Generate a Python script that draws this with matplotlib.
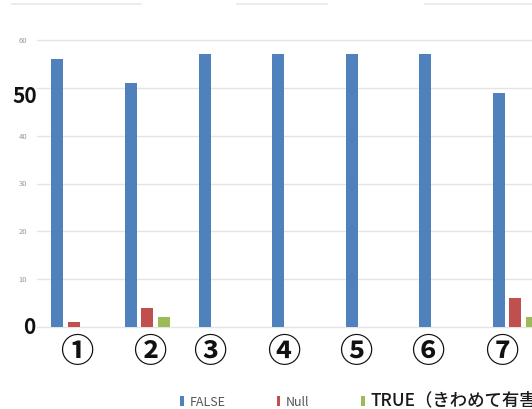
import matplotlib
matplotlib.use('Agg')
import matplotlib.pyplot as plt
import numpy as np
from matplotlib.lines import Line2D

plt.rcParams['font.family'] = ['Noto Sans CJK JP', 'DejaVu Sans']

# Counts per item
categories = ['①', '②', '③', '④', '⑤', '⑥', '⑦']
series_names = ['FALSE', 'Null', 'TRUE（きわめて有害）']
false_counts = [56, 51, 57, 57, 57, 57, 49]
null_counts = [1, 4, 0, 0, 0, 0, 6]
true_counts = [0, 2, 0, 0, 0, 0, 2]
y_ticks = [0, 10, 20, 30, 40, 50, 60]
y_tick_labels = ['', '10', '20', '30', '40', '', '60']

colors = ['#4f81bd', '#c0504d', '#9bbb59']

fig = plt.figure(figsize=(5.32, 4.09), dpi=100)
W, H = 532, 409
ax = fig.add_axes([37 / W, (H - 327) / H, 515.2 / W, 287 / H])

x = np.arange(len(categories))
step = 0.224
width = 0.163
for k, (vals, name) in enumerate(zip([false_counts, null_counts, true_counts], series_names)):
    ax.bar(x + (k - 1) * step, vals, width, color=colors[k], label=name, zorder=2)

ax.set_xlim(-0.5, len(categories) - 0.5)
ax.set_ylim(0, 60)
ax.set_yticks(y_ticks)
ax.set_yticklabels(y_tick_labels, fontsize=5.5, color='#999999')
ax.tick_params(axis='y', length=0, pad=7)
ax.set_xticks([])
for s in ax.spines.values():
    s.set_visible(False)
ax.yaxis.grid(True, color='#e4e4e4', lw=1)
ax.set_axisbelow(True)
for gl in ax.get_ygridlines():
    gl.set_clip_on(False)

# big axis numbers
ax.annotate('50', xy=(0, 50), xycoords=('axes fraction', 'data'), xytext=(0, -6.5),
            textcoords='offset points', ha='right', va='center',
            fontsize=15, fontweight='bold', color='#111111')
ax.annotate('0', xy=(0, 0), xycoords=('axes fraction', 'data'), xytext=(-1.5, -0.7),
            textcoords='offset points', ha='right', va='center',
            fontsize=15, fontweight='bold', color='#111111')

# circled item labels under each group
nudges = [3, 2, -11, -10.5, -12, -14.5, -13.5]
for i, lab in enumerate(categories):
    ax.annotate(lab, xy=(i, 0), xycoords='data', xytext=(nudges[i] * 0.72, -18.7),
                textcoords='offset points', ha='center', va='center',
                fontsize=24, fontweight='bold', color='#111111', annotation_clip=False)

# legend along the bottom
leg = fig.legend(loc='lower left', bbox_to_anchor=(175 / W, -0.014), ncol=3,
                 frameon=False, fontsize=9, handlelength=0.3, handleheight=0.85,
                 handletextpad=0.45, columnspacing=4.1, borderaxespad=0)
texts = leg.get_texts()
for t in texts[:2]:
    t.set_color('#555555')
texts[2].set_fontsize(12.5)
texts[2].set_fontweight('medium')
texts[2].set_color('#1a1a1a')

# faint rules left over at the top
for x0, x1 in [(12, 141), (237, 327), (425, 532)]:
    fig.add_artist(Line2D([x0 / W, x1 / W], [1 - 4 / H, 1 - 4 / H],
                          color='#e8e8e8', lw=1.2, transform=fig.transFigure))

fig.savefig('out.png', dpi=100)
